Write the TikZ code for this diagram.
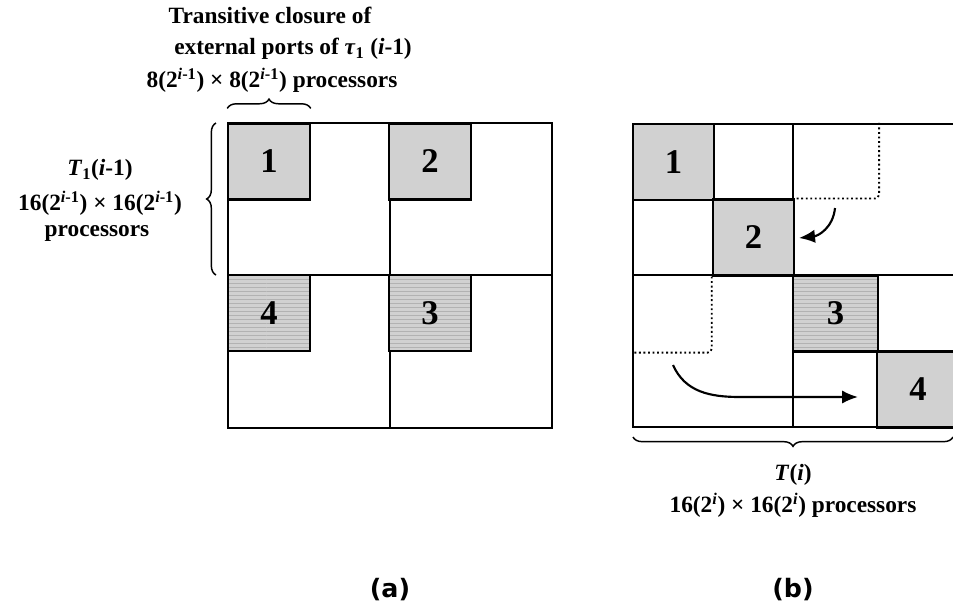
\documentclass[tikz,border=0pt]{standalone}
\usepackage{fontspec}
\setmainfont{Liberation Serif}
\newfontfamily\capfont{DejaVu Sans}
\usetikzlibrary{arrows.meta,decorations.pathreplacing,patterns}

\begin{document}
\begin{tikzpicture}[x=0.75pt,y=-0.75pt,
  frame/.style={line width=1.6pt},
  cell/.style={draw,line width=1.6pt,fill=black!18,minimum width=61pt,minimum height=57pt,inner sep=0pt,font=\fontsize{26}{26}\selectfont\bfseries},
  lined/.style={postaction={pattern=horizontal lines,pattern color=black!30},postaction={draw,line width=1.6pt}},
  lab/.style={inner sep=0pt,font=\fontsize{17.5}{20}\selectfont\bfseries},
  sublabel/.style={inner sep=0pt,font=\capfont\bfseries\fontsize{19}{21}\selectfont},
  brc/.style={decorate,decoration={brace,amplitude=7pt},line width=1.1pt},
  dots/.style={dotted,line width=1.4pt,rounded corners=3pt},
  flow/.style={line width=1.6pt,-{Latex[length=12pt,width=10pt]}}
]
\useasboundingbox (0,0) rectangle (953,604);
\fill[white] (0,0) rectangle (953,604);
\draw[frame] (228,123) rectangle (552,428);
\draw[frame] (390,123) -- (390,428) (228,275) -- (552,275);
\node[cell] (a1) at (269,161.5) {1};
\node[cell] (a2) at (430,161.5) {2};
\node[cell,lined] (a4) at (269,313) {4};
\node[cell,lined] (a3) at (430,313) {3};
\draw[brc] (a1.north west) ++(0,-14) coordinate (ta) -- (a1.north east |- ta);
\draw[brc] (216,275) -- (216,123);
\node[lab] (tc1) at (270,15) {Transitive closure of};
\node[lab] (tc2) at (293,49) {external ports of \textit{τ}\textsubscript{1} (\textit{i}-1)};
\node[lab] (tc3) at (272,80) {8(2\textsuperscript{\textit{i}-1}) × 8(2\textsuperscript{\textit{i}-1}) processors};
\node[lab] (tl1) at (100,170) {\textit{T}\textsubscript{1}(\textit{i}-1)};
\node[lab] (tl2) at (100,203) {16(2\textsuperscript{\textit{i}-1}) × 16(2\textsuperscript{\textit{i}-1})};
\node[lab] (tl3) at (97,233) {processors};
\node[sublabel] (ca) at (390,590) {(a)};
\begin{scope}
\clip (0,0) rectangle (953,604);
\draw[frame] (633,124) rectangle (958,427);
\draw[frame] (793,124) -- (793,427) (633,275) -- (958,275);
\node[cell] (b1) at (673.5,162) {1};
\node[cell] (b2) at (753.5,237.5) {2};
\node[cell,lined,minimum width=63.75pt] (b3) at (835.5,313.5) {3};
\node[cell] (b4) at (918,389.5) {4};
\end{scope}
\draw[dots] (b1.north east -| b3.north east) -- (b2.north east -| b3.north east) -- (b2.north east);
\draw[dots] (b2.south west) -- (b2.south west |- b3.south west) -- (b1.west |- b3.south west);
\coordinate (s1) at (835,208);
\coordinate (e1) at (799,238);
\draw[flow] (s1) .. controls (833,228) and (818,236) .. (e1);
\coordinate (s2) at (673,365);
\coordinate (e2) at (858,397);
\draw[flow] (s2) .. controls (685,392) and (710,397) .. (740,397) -- (e2);
\draw[brc] (953,437) -- (633,437);
\node[lab] (tb1) at (793,475) {\textit{T}(\textit{i})};
\node[lab] (tb2) at (793,505) {16(2\textsuperscript{\textit{i}}) × 16(2\textsuperscript{\textit{i}}) processors};
\node[sublabel] (cb) at (793,590) {(b)};
\end{tikzpicture}
\end{document}
